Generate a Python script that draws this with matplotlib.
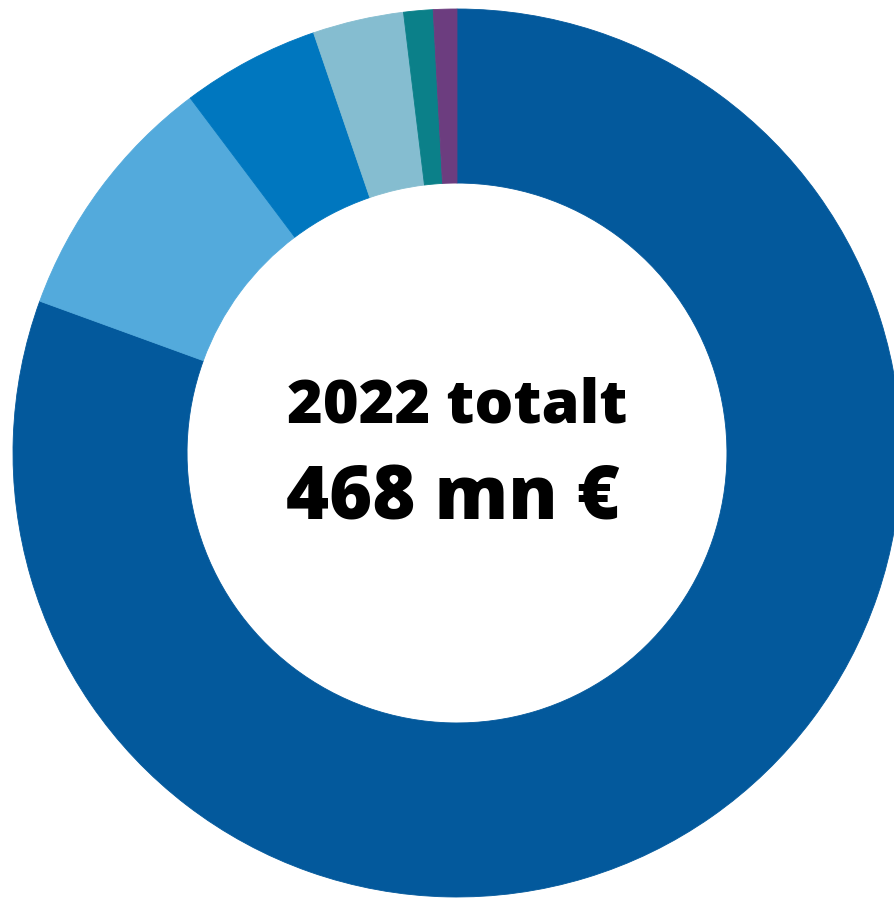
import matplotlib.pyplot as plt

# values in mn €, clockwise from the top
labels = ['A', 'B', 'C', 'D', 'E', 'F']
values = [377, 43, 23.5, 15.5, 5, 4]
colors = ['#03599c', '#53aadc', '#0077bf', '#85bdd0', '#0b8089', '#6c3d7f']

title_line1 = '2022 totalt'
title_line2 = '468 mn €'

W, H = 894, 899
cx, cy, R = 457, 453, 444   # centre and outer radius in pixels

fig = plt.figure(figsize=(W / 100, H / 100), dpi=100)
ax = fig.add_axes([0, 0, 1, 1])

wedges, _ = ax.pie(values, colors=colors, startangle=90, counterclock=False,
                   radius=1.0, wedgeprops=dict(width=0.392, linewidth=0))
for w in wedges:
    w.set_edgecolor(w.get_facecolor())
    w.set_linewidth(0.6)

ax.set_xlim(-cx / R, (W - cx) / R)
ax.set_ylim(-(H - cy) / R, cy / R)
ax.set_aspect('auto')
ax.axis('off')

ax.text(0.0, (cy - 406) / R, title_line1, ha='center', va='center',
        fontsize=44, fontweight=800, family=['Open Sans', 'DejaVu Sans'])
ax.text(-4 / R, (cy - 500) / R, title_line2, ha='center', va='center',
        fontsize=53, fontweight=800, family=['Open Sans', 'DejaVu Sans'])

fig.savefig('out.png', dpi=100)
